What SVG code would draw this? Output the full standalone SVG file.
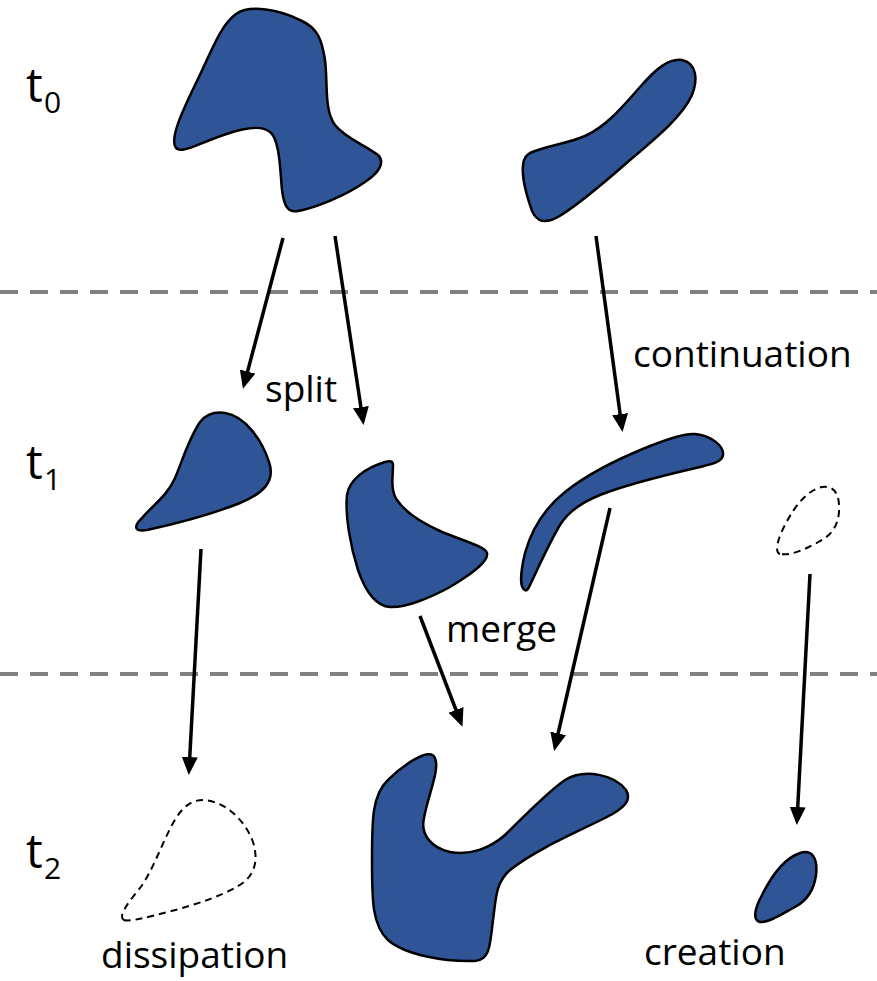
<svg xmlns="http://www.w3.org/2000/svg" width="877" height="981" viewBox="0 0 877 981">
<style>
.blob{fill:#2f5597;stroke:#000;stroke-width:2.5;stroke-linejoin:round}
.ghost{fill:none;stroke:#000;stroke-width:2;stroke-dasharray:7 5}
.sep{stroke:#808080;stroke-width:4;stroke-dasharray:18 12}
.arr{stroke:#000;stroke-width:3.5;fill:none;marker-end:url(#ah)}
.lbl{font-family:"Open Sans","Liberation Sans",sans-serif;font-size:37px;fill:#000}
.t{font-family:"Open Sans","Liberation Sans",sans-serif;font-size:47px;fill:#000}
.sub{font-family:"Open Sans","Liberation Sans",sans-serif;font-size:30px;fill:#000}
</style>
<defs>
<marker id="ah" markerUnits="userSpaceOnUse" markerWidth="20" markerHeight="18" refX="14" refY="8" orient="auto">
<path d="M0,0 L18,8 L0,16 Z" fill="#000"/>
</marker>
</defs>
<rect width="877" height="981" fill="#fff"/>
<g id="separators">
<line class="sep" x1="0" y1="292" x2="877" y2="292"/>
<line class="sep" x1="0" y1="674" x2="877" y2="674"/>
</g>
<g id="time-labels">
<text class="t" x="26" y="102">t</text><text class="sub" x="44" y="113">0</text>
<text class="t" x="26" y="479">t</text><text class="sub" x="44" y="490">1</text>
<text class="t" x="26" y="868">t</text><text class="sub" x="44" y="879">2</text>
</g>
<g id="blob-t0-left"><path class="blob" d="M236,14 C250,4 280,10 300,20 C318,28 322,40 325,60 C328,85 324,110 335,125 C345,138 365,145 378,155 C385,162 380,172 365,182 C345,196 315,208 298,211 C287,213 284,205 282,190 C280,170 280,140 270,132 C258,122 230,132 205,142 C190,148 178,154 175,146 C171,136 182,112 195,85 C210,55 220,25 236,14 Z"/></g>
<g id="blob-t0-right"><path class="blob" d="M530,153 C545,146 570,143 585,136 C605,127 620,110 640,87 C655,70 668,58 682,60 C697,63 698,80 692,95 C683,115 660,135 630,160 C605,182 575,208 556,218 C542,225 534,220 530,205 C525,190 522,175 523,165 C524,157 527,155 530,153 Z"/></g>
<g id="blob-t1-left"><path class="blob" d="M200,422 C208,412 218,412 225,413 C245,416 262,440 269,462 C276,482 262,494 240,503 C210,515 170,525 147,530 C133,532 134,526 142,518 C152,506 168,495 175,478 C182,462 188,440 200,422 Z"/></g>
<g id="blob-t1-mid"><path class="blob" d="M393,465 C393,475 390,490 397,500 C405,512 420,522 440,531 C460,540 485,546 487,553 C489,562 470,575 450,587 C430,598 405,608 390,607 C375,606 365,590 358,570 C350,545 345,515 347,495 C349,480 365,468 385,462 C392,460 393,462 393,465 Z"/></g>
<g id="blob-t1-right"><path class="blob" d="M525,590 C519,588 521,570 525,553 C532,528 545,508 565,492 C590,472 620,458 650,446 C670,438 685,433 695,434 C712,436 724,446 723,455 C722,462 712,464 700,467 C670,474 630,483 600,495 C580,503 568,512 560,525 C548,545 535,575 530,585 C528,590 526,591 525,590 Z"/></g>
<g id="ghost-t1"><path class="ghost" d="M780,554 C774,552 778,538 785,525 C795,505 808,490 822,487 C836,485 840,497 839,512 C838,525 832,535 820,541 C808,548 792,556 780,554 Z"/></g>
<g id="ghost-t2"><path class="ghost" d="M124,920 C117,917 130,900 140,888 C152,872 160,848 172,825 C182,806 192,800 203,800 C225,801 245,820 253,842 C258,858 256,872 244,882 C228,894 198,904 168,912 C148,917 130,922 124,920 Z"/></g>
<g id="blob-t2-merged"><path class="blob" d="M435,758 C440,770 428,795 424,818 C420,835 432,848 450,852 C470,856 490,848 505,835 C525,815 550,790 565,780 C585,768 615,775 626,790 C632,800 625,808 605,818 C575,833 535,850 510,870 C495,883 496,900 493,920 C490,945 490,960 475,961 C445,962 405,955 388,940 C372,925 372,900 372,860 C372,820 372,795 388,780 C400,768 430,745 435,758 Z"/></g>
<g id="blob-t2-created"><path class="blob" d="M760,922 C752,920 755,908 762,895 C772,875 785,858 800,853 C812,849 818,858 816,875 C814,890 808,900 795,907 C782,914 768,923 760,922 Z"/></g>
<g id="connectors">
<line class="arr" x1="283" y1="238" x2="244" y2="385"/>
<line class="arr" x1="335" y1="236" x2="363" y2="421"/>
<line class="arr" x1="596" y1="236" x2="622" y2="428"/>
<line class="arr" x1="201" y1="549" x2="189" y2="771"/>
<line class="arr" x1="420" y1="616" x2="461" y2="723"/>
<line class="arr" x1="610" y1="508" x2="555" y2="747"/>
<line class="arr" x1="810" y1="574" x2="797" y2="821"/>
</g>
<g id="labels">
<text class="lbl" x="265" y="402">split</text>
<text class="lbl" x="633" y="367">continuation</text>
<text class="lbl" x="446" y="642">merge</text>
<text class="lbl" x="101" y="968">dissipation</text>
<text class="lbl" x="644" y="965">creation</text>
</g>
</svg>
